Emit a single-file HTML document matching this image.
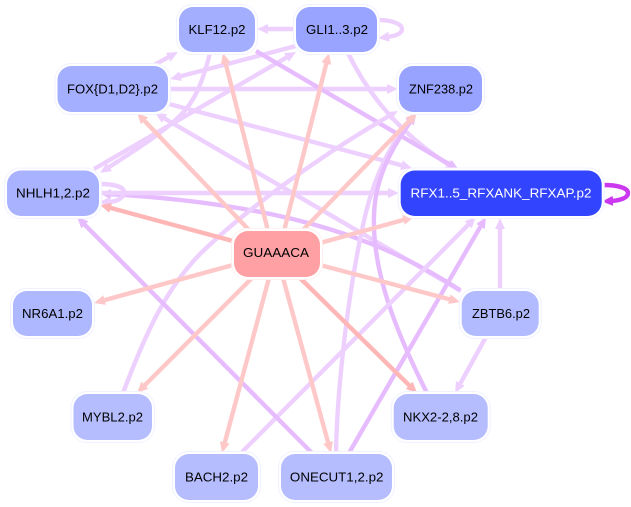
<!DOCTYPE html>
<html>
<head>
<meta charset="utf-8">
<style>
html,body{margin:0;padding:0;background:#fff;width:631px;height:507px;overflow:hidden}
svg{display:block}
text{font-family:"Liberation Sans",Arial,sans-serif;font-size:13.3px;fill:#000;text-anchor:middle}
.h{fill:#fff;stroke:#f0f2ff;stroke-width:1}
.r1{stroke:#ffc8c8;stroke-width:4.4;fill:none}
.r2{stroke:#ffb6b6;stroke-width:4.4;fill:none}
.p1{stroke:#eed0ff;stroke-width:4.4;fill:none}
.p2{stroke:#e6bcff;stroke-width:4.4;fill:none}
.p3{stroke:#cc38f0;stroke-width:4.4;fill:none}
</style>
</head>
<body>
<svg width="631" height="507" viewBox="0 0 631 507" xmlns="http://www.w3.org/2000/svg">
<defs>
<marker id="mr1" markerUnits="userSpaceOnUse" markerWidth="14" markerHeight="14" refX="2" refY="7" orient="auto"><path d="M0,2 L11,7 L0,12 Z" fill="#ffc8c8"/></marker>
<marker id="mr2" markerUnits="userSpaceOnUse" markerWidth="14" markerHeight="14" refX="2" refY="7" orient="auto"><path d="M0,2 L11,7 L0,12 Z" fill="#ffb6b6"/></marker>
<marker id="mp1" markerUnits="userSpaceOnUse" markerWidth="14" markerHeight="14" refX="2" refY="7" orient="auto"><path d="M0,2 L11,7 L0,12 Z" fill="#eed0ff"/></marker>
<marker id="mp2" markerUnits="userSpaceOnUse" markerWidth="14" markerHeight="14" refX="2" refY="7" orient="auto"><path d="M0,2 L11,7 L0,12 Z" fill="#e6bcff"/></marker>
<marker id="mp3" markerUnits="userSpaceOnUse" markerWidth="14" markerHeight="14" refX="2" refY="7" orient="auto"><path d="M0,2 L11,7 L0,12 Z" fill="#cc38f0"/></marker>
</defs>

<!-- purple edges -->
<path class="p1" marker-end="url(#mp1)" d="M296,29 L266,29"/>
<path class="p1" marker-end="url(#mp1)" d="M378,20 C392,20 402,24 402,29 C402,34 395,36 387,37"/>
<path class="p1" marker-end="url(#mp1)" d="M296,46 L178.7,76.7"/>
<path class="p1" marker-end="url(#mp1)" d="M154,65 L170,56.3"/>
<path class="p1" marker-end="url(#mp1)" d="M169,89 L389,89"/>
<path class="p1" marker-end="url(#mp1)" d="M169,104 L403.3,165.7"/>
<path class="p1" marker-end="url(#mp1)" d="M94,169 L288.2,56.5"/>
<path class="p1" marker-end="url(#mp1)" d="M210,53 C203,80 197,95 187,108 C172,127 140,147 107.6,168"/>
<path class="p1" marker-end="url(#mp1)" d="M348,53 C366,90 395,130 449,165"/>
<path class="p2" marker-end="url(#mp2)" d="M256,51 L451.2,165.4"/>
<path class="p1" marker-end="url(#mp1)" d="M461,291 L162.8,117.5"/>
<path class="p2" marker-end="url(#mp2)" d="M460,290 C390,245 300,205 109,194"/>
<path class="p1" marker-end="url(#mp1)" d="M100,193 L390,193"/>
<path class="p1" marker-end="url(#mp1)" d="M99,184 C118,184 124,188 124,192.5 C124,198 116,202 108,202"/>
<path class="p1" marker-end="url(#mp1)" d="M123,393 C145,335 165,290 200,254 C250,205 330,150 390,115.5"/>
<path class="p1" marker-end="url(#mp1)" d="M336,452 C337,400 345,310 362,230 C370,190 385,150 410.7,120"/>
<path class="p2" marker-end="url(#mp2)" d="M427,393 C395,330 372,270 374,215 C375,180 390,150 411,121"/>
<path class="p2" marker-end="url(#mp2)" d="M349,453 L481.5,224.8"/>
<path class="p1" marker-end="url(#mp1)" d="M242,452 L469.6,223.4"/>
<path class="p2" marker-end="url(#mp2)" d="M312,453 L83.4,223.4"/>
<path class="p1" marker-end="url(#mp1)" d="M486,337 L459.4,385.1"/>
<path class="p1" marker-end="url(#mp1)" d="M500,290 L500,227"/>
<path class="p3" marker-end="url(#mp3)" d="M603,185 C618,185 628,188 628,193 C628,198 620,200.5 611,201"/>

<!-- red edges -->
<path class="r1" marker-end="url(#mr1)" d="M268,231 L225.2,61.7"/>
<path class="r1" marker-end="url(#mr1)" d="M284,231 L326.8,61.7"/>
<path class="r1" marker-end="url(#mr1)" d="M250,231 L143.2,119.5"/>
<path class="r2" marker-end="url(#mr2)" d="M233,241 L108.7,207.4"/>
<path class="r1" marker-end="url(#mr1)" d="M302,231 L410.7,119.4"/>
<path class="r1" marker-end="url(#mr1)" d="M320,243 L405.3,219.4"/>
<path class="r1" marker-end="url(#mr1)" d="M233,265 L102.7,300.6"/>
<path class="r1" marker-end="url(#mr1)" d="M252,278 L143.4,386.6"/>
<path class="r1" marker-end="url(#mr1)" d="M269,278 L224.3,444.3"/>
<path class="r1" marker-end="url(#mr1)" d="M283,278 L328.6,444.3"/>
<path class="r2" marker-end="url(#mr2)" d="M300,278 L410.6,386.7"/>
<path class="r1" marker-end="url(#mr1)" d="M320,265 L451.3,299.7"/>

<!-- nodes -->
<rect class="h" x="176.500" y="4.500" width="81" height="50" rx="16"/><rect x="179" y="7" width="76" height="45" rx="14" fill="#a3aeff"/>
<text x="217" y="34" textLength="57" lengthAdjust="spacingAndGlyphs">KLF12.p2</text>

<rect class="h" x="293.500" y="4.500" width="86" height="50" rx="16"/><rect x="296" y="7" width="81" height="45" rx="14" fill="#98a4ff"/>
<text x="337" y="34" textLength="62" lengthAdjust="spacingAndGlyphs">GLI1..3.p2</text>

<rect class="h" x="55" y="63.500" width="115.500" height="51" rx="16"/><rect x="57.500" y="66" width="110.500" height="46" rx="14" fill="#a5afff"/>
<text x="112.500" y="93.500" textLength="91" lengthAdjust="spacingAndGlyphs">FOX{D1,D2}.p2</text>

<rect class="h" x="396.500" y="63.500" width="88" height="51" rx="16"/><rect x="399" y="66" width="83" height="46" rx="14" fill="#97a3ff"/>
<text x="441" y="93.500" textLength="64" lengthAdjust="spacingAndGlyphs">ZNF238.p2</text>

<rect class="h" x="4.500" y="168" width="97" height="50.500" rx="16"/><rect x="7" y="170.500" width="92" height="45.500" rx="14" fill="#a8b2ff"/>
<text x="53" y="197.500" textLength="74" lengthAdjust="spacingAndGlyphs">NHLH1,2.p2</text>

<rect class="h" x="398.200" y="168" width="206" height="50.500" rx="16"/><rect x="400.700" y="170.500" width="201" height="45.500" rx="14" fill="#3344ff"/>
<text x="501" y="197.500" textLength="181" lengthAdjust="spacingAndGlyphs" style="fill:#fff">RFX1..5_RFXANK_RFXAP.p2</text>

<rect x="231.500" y="228.500" width="91" height="51" rx="16" fill="#fff" stroke="#fff0f0"/><rect x="234" y="231" width="86" height="46" rx="14" fill="#ffa0a4"/>
<text x="276" y="257" textLength="66" lengthAdjust="spacingAndGlyphs">GUAAACA</text>

<rect class="h" x="10.500" y="288.500" width="84" height="50" rx="16"/><rect x="13" y="291" width="79" height="45" rx="14" fill="#aeb8ff"/>
<text x="52.500" y="318" textLength="61" lengthAdjust="spacingAndGlyphs">NR6A1.p2</text>

<rect class="h" x="71" y="391.500" width="83.500" height="51" rx="16"/><rect x="73.500" y="394" width="78.500" height="46" rx="14" fill="#b5bdff"/>
<text x="112.500" y="421.500" textLength="61" lengthAdjust="spacingAndGlyphs">MYBL2.p2</text>

<rect class="h" x="172.500" y="451.500" width="88" height="51" rx="16"/><rect x="175" y="454" width="83" height="46" rx="14" fill="#b5bdff"/>
<text x="216.500" y="481.500" textLength="63" lengthAdjust="spacingAndGlyphs">BACH2.p2</text>

<rect class="h" x="278.500" y="451.500" width="116" height="51" rx="16"/><rect x="281" y="454" width="111" height="46" rx="14" fill="#b5bdff"/>
<text x="336.700" y="481.500" textLength="93.500" lengthAdjust="spacingAndGlyphs">ONECUT1,2.p2</text>

<rect class="h" x="391.200" y="391.500" width="99" height="51" rx="16"/><rect x="393.700" y="394" width="94" height="46" rx="14" fill="#b5bdff"/>
<text x="440.500" y="421.500" textLength="75" lengthAdjust="spacingAndGlyphs">NKX2-2,8.p2</text>

<rect class="h" x="459.200" y="288.500" width="82" height="50" rx="16"/><rect x="461.700" y="291" width="77" height="45" rx="14" fill="#b2bbff"/>
<text x="501" y="318" textLength="58" lengthAdjust="spacingAndGlyphs">ZBTB6.p2</text>
</svg>
</body>
</html>
